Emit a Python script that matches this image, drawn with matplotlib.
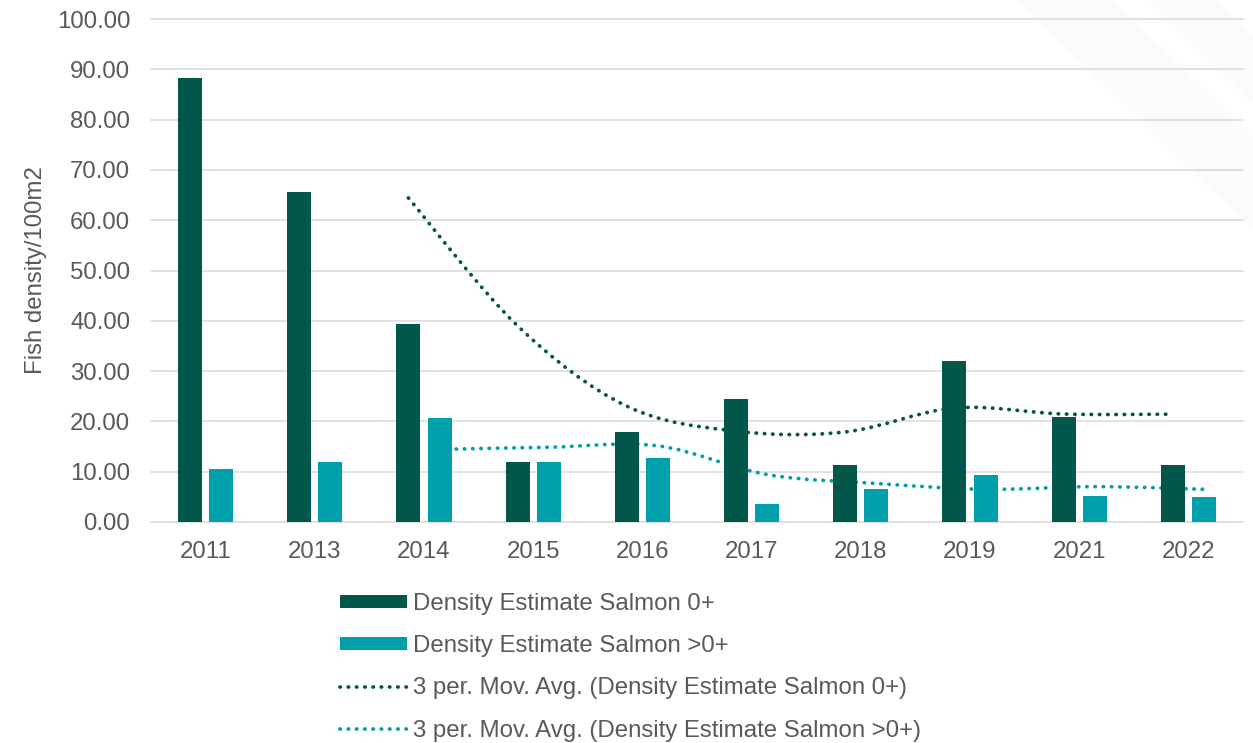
import matplotlib
matplotlib.use("Agg")
import matplotlib.pyplot as plt
import numpy as np
import pandas as pd
from matplotlib.path import Path
from matplotlib.patches import PathPatch, Polygon, Patch
from matplotlib.lines import Line2D

# Survey years and density estimates (fish per 100 m2)
years = ["2011", "2013", "2014", "2015", "2016", "2017", "2018", "2019", "2021", "2022"]
salmon_0 = [88.2, 65.7, 39.4, 11.9, 17.8, 24.5, 11.4, 32.1, 20.9, 11.3]
salmon_gt0 = [10.6, 12.0, 20.7, 11.9, 12.8, 3.6, 6.6, 9.3, 5.2, 5.0]
y_ticks = [0, 10, 20, 30, 40, 50, 60, 70, 80, 90, 100]

DARK = "#03564A"
TEAL = "#00A0AA"
TEXT = "#595959"
GRID = "#D9D9D9"
FS = 17.3

plt.rcParams["font.family"] = ["Liberation Sans", "DejaVu Sans"]


def smooth_path(x, y):
    # Excel-like smoothed line built from cubic Bezier segments (Catmull-Rom tangents)
    pts = np.column_stack([x, y])
    n = len(pts)
    verts = [pts[0]]
    codes = [Path.MOVETO]
    for i in range(n - 1):
        p0 = pts[max(i - 1, 0)]
        p1 = pts[i]
        p2 = pts[i + 1]
        p3 = pts[min(i + 2, n - 1)]
        verts += [p1 + (p2 - p0) / 6, p2 - (p3 - p1) / 6, p2]
        codes += [Path.CURVE4] * 3
    return Path(verts, codes)


fig = plt.figure(figsize=(12.53, 7.43), dpi=100)
W, H = 1253, 743

# faint diagonal watermark bands in the top-right corner
for band in ([(1017, 0), (1113, 0), (1253, 137), (1253, 230)],
             [(1147, 0), (1217, 0), (1253, 36), (1253, 103)]):
    fig.add_artist(Polygon([(px / W, 1 - py / H) for px, py in band], closed=True,
                           transform=fig.transFigure, facecolor="#FBFBFB",
                           edgecolor="none", zorder=-1))

ax = fig.add_axes([151 / W, 1 - 522 / H, (1243 - 151) / W, (522 - 19) / H])
ax.patch.set_alpha(0)

x = np.arange(len(years))
off = 0.143
bw = 0.22
ax.bar(x - off, salmon_0, width=bw, color=DARK, zorder=2)
ax.bar(x + off, salmon_gt0, width=bw, color=TEAL, zorder=2)

# 3-period moving averages (trendlines), drawn behind the bars
ma_0 = pd.Series(salmon_0).rolling(3).mean()
ma_gt0 = pd.Series(salmon_gt0).rolling(3).mean()
dots = (0, (0.1, 2.1))
lw = 2.7
for ma, shift, col in ((ma_0, -off, DARK), (ma_gt0, off, TEAL)):
    valid = ma.notna().to_numpy()
    path = smooth_path(x[valid] + shift, ma[valid].to_numpy())
    pp = PathPatch(path, fill=False, edgecolor=col, linewidth=lw, linestyle=dots, zorder=1.5)
    pp.set_capstyle("round")
    ax.add_patch(pp)

ax.set_xlim(-0.5, len(years) - 0.5)
ax.set_ylim(0, 100)
ax.set_xticks(x)
ax.set_xticklabels(years)
ax.set_yticks(y_ticks)
ax.set_yticklabels([f"{v:.2f}" for v in y_ticks])
ax.tick_params(axis="both", length=0, labelsize=FS, labelcolor=TEXT)
ax.tick_params(axis="y", pad=15)
ax.tick_params(axis="x", pad=13.5)
ax.yaxis.grid(True, color=GRID, linewidth=1.1)
ax.set_axisbelow(True)
for gl in ax.get_ygridlines():
    gl.set_clip_on(False)
for s in ax.spines.values():
    s.set_visible(False)
ax.set_ylabel("Fish density/100m2", fontsize=FS, color=TEXT, labelpad=7)

handles = [
    Patch(facecolor=DARK, edgecolor="none"),
    Patch(facecolor=TEAL, edgecolor="none"),
    Line2D([], [], color=DARK, linewidth=lw, linestyle=dots, dash_capstyle="round"),
    Line2D([], [], color=TEAL, linewidth=lw, linestyle=dots, dash_capstyle="round"),
]
labels = [
    "Density Estimate Salmon 0+",
    "Density Estimate Salmon >0+",
    "3 per. Mov. Avg. (Density Estimate Salmon 0+)",
    "3 per. Mov. Avg. (Density Estimate Salmon >0+)",
]
leg = fig.legend(handles, labels, loc="upper left", bbox_to_anchor=(340 / W, 1 - 593 / H),
                 frameon=False, fontsize=FS, handlelength=2.8, handleheight=0.48,
                 handletextpad=0.25, labelspacing=0.84, borderpad=0, borderaxespad=0)
for t in leg.get_texts():
    t.set_color(TEXT)

fig.savefig("out.png", dpi=100)
